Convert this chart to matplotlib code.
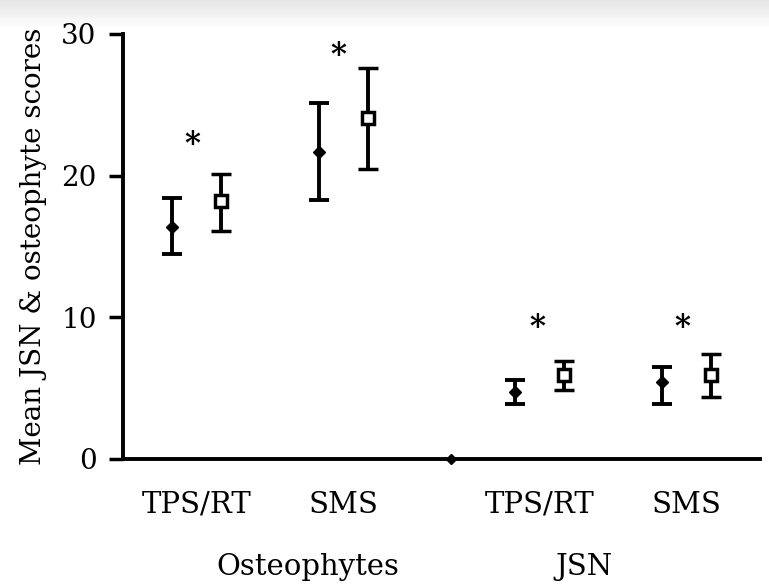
import matplotlib.pyplot as plt
import numpy as np

plt.rcParams['font.family'] = ['DejaVu Serif']

# group centres along the x axis
groups = ["Osteophytes", "JSN"]
categories = ["TPS/RT", "SMS", "TPS/RT", "SMS"]
centres = [1.5, 4.5, 8.5, 11.5]

# filled diamonds (first series) and open squares (second series)
mean_a = [16.4, 21.7, 4.7, 5.4]
upper_a = [18.4, 25.1, 5.6, 6.5]
lower_a = [14.5, 18.3, 3.9, 3.9]

mean_b = [18.2, 24.1, 5.9, 5.9]
upper_b = [20.1, 27.6, 6.9, 7.4]
lower_b = [16.1, 20.5, 4.9, 4.4]

star_y = [22.7, 29.0, 9.8, 9.8]
star_x = [1.41, 4.39, 8.45, 11.41]

fig = plt.figure(figsize=(7.69, 5.85), dpi=100)

# faint grey band along the top edge
band = fig.add_axes([0, 1 - 30 / 585, 1, 30 / 585], zorder=-1)
band.imshow(np.linspace(0.9, 1.0, 30)[:, None], cmap='gray', vmin=0,
            vmax=1, aspect='auto', extent=[0, 1, 0, 1])
band.axis('off')

ax = fig.add_axes([0.16, 0.2154, 0.828, 0.7265])
ax.patch.set_alpha(0)

xa = np.array(centres) - 0.5
xb = np.array(centres) + 0.5
ma, mb = np.array(mean_a), np.array(mean_b)
err_a = [ma - np.array(lower_a), np.array(upper_a) - ma]
err_b = [mb - np.array(lower_b), np.array(upper_b) - mb]

ax.errorbar(xa, ma, yerr=err_a, fmt='D', color='black', ms=6,
            elinewidth=2.8, capsize=7, capthick=2.8, clip_on=False)
ax.errorbar(xb, mb, yerr=err_b, fmt='s', color='black', mfc='white',
            mec='black', mew=2.5, ms=8.5, elinewidth=2.8, capsize=7,
            capthick=2.8, clip_on=False)

for x, y in zip(star_x, star_y):
    ax.text(x, y - 0.5, "*", ha='center', va='center', fontsize=22,
            fontweight='bold')

ax.set_xlim(0, 13)
ax.set_ylim(0, 30)
ax.set_yticks([0, 10, 20, 30])
ax.tick_params(axis='y', direction='out', length=10, width=2.5,
               labelsize=20, pad=9)
ax.set_xticks(centres)
ax.set_xticklabels(categories)
ax.tick_params(axis='x', length=0, labelsize=21, pad=23)

for side in ['top', 'right']:
    ax.spines[side].set_visible(False)
for side in ['left', 'bottom']:
    ax.spines[side].set_linewidth(2.8)

# break marker on the x axis between the two groups
ax.plot([6.7], [0], 'D', color='black', ms=5, clip_on=False)

ax.set_ylabel("Mean JSN & osteophyte scores", fontsize=20, labelpad=10)

ax.text(3.78, -7.6, groups[0], ha='center', va='center', fontsize=21)
ax.text(9.4, -7.6, groups[1], ha='center', va='center', fontsize=21)

fig.savefig("out.png", dpi=100)
